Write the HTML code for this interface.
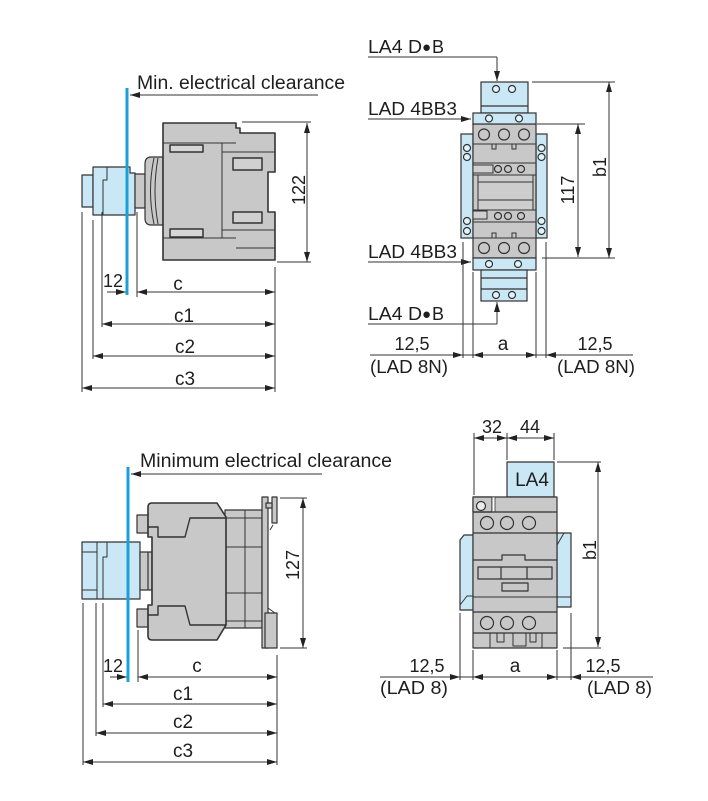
<!DOCTYPE html>
<html><head><meta charset="utf-8"><style>
html,body{margin:0;padding:0;background:#fff;}
svg{display:block;}
text{font-family:"Liberation Sans",Arial,sans-serif;fill:#1e1e1e;}
</style></head><body>
<svg width="708" height="801" viewBox="0 0 708 801" xmlns="http://www.w3.org/2000/svg">
<defs>
<marker id="ar" viewBox="0 0 10 6" refX="10" refY="3" markerWidth="10" markerHeight="6" markerUnits="userSpaceOnUse" orient="auto-start-reverse"><path d="M0,0L10,3L0,6z" fill="#222"/></marker>
</defs>

<!-- ================= TOP LEFT ================= -->
<g stroke="#333" stroke-width="1.2" stroke-linejoin="round">
  <rect x="82" y="175" width="11" height="32" fill="#c9e7f5"/>
  <path d="M93,167H130V173H135V215H93Z" fill="#c9e7f5"/>
  <path d="M107,167V180H103V215" fill="none" stroke-width="1"/>
  <rect x="135" y="174" width="10" height="34" fill="#c8c8c8"/>
  <path d="M163,157H151Q145,157 145,164V218Q145,225 151,225H163Z" fill="#c8c8c8"/>
  <path d="M154,158Q147,191 154,224" fill="none" stroke-width="1"/>
  <path d="M158,158Q152,191 158,224" fill="none" stroke-width="1"/>
  <path d="M163,123H236V128H240V133H275V172H268V212H275V260H163Z" fill="#c8c8c8" stroke-width="1.6"/>
  <path d="M163,143H236M222,143V238M163,238H236M222,152H275M222,230H275M236,248H275" fill="none" stroke-width="1"/>
  <rect x="170" y="145" width="33" height="7" fill="#d6d6d6" stroke-width="1.5"/>
  <rect x="170" y="229" width="33" height="8" fill="#d6d6d6" stroke-width="1.5"/>
  <rect x="233" y="158" width="29" height="12" fill="#d0d0d0" stroke-width="1.5"/>
  <rect x="233" y="212" width="29" height="11" fill="#d0d0d0" stroke-width="1.5"/>
</g>
<g stroke="#333" stroke-width="1" fill="none">
  <path d="M82,212V392M93,220V359M102,212V327M137,212V297M275,267V392"/>
  <path d="M242,122H311M277,262H311"/>
  <line x1="307" y1="123" x2="307" y2="262" marker-start="url(#ar)" marker-end="url(#ar)"/>
  <line x1="137" y1="292" x2="275" y2="292" marker-start="url(#ar)" marker-end="url(#ar)"/>
  <line x1="107" y1="292" x2="126" y2="292" marker-end="url(#ar)"/>
  <line x1="102" y1="324" x2="275" y2="324" marker-start="url(#ar)" marker-end="url(#ar)"/>
  <line x1="93" y1="356" x2="275" y2="356" marker-start="url(#ar)" marker-end="url(#ar)"/>
  <line x1="82" y1="388" x2="275" y2="388" marker-start="url(#ar)" marker-end="url(#ar)"/>
  <line x1="318" y1="95" x2="130" y2="95" marker-end="url(#ar)"/>
</g>
<line x1="127" y1="88" x2="127" y2="295" stroke="#1aa0d8" stroke-width="3"/>
<text x="137" y="89" font-size="19" textLength="208" lengthAdjust="spacingAndGlyphs">Min. electrical clearance</text>
<text transform="translate(305,190) rotate(-90)" font-size="18" text-anchor="middle">122</text>
<text x="103" y="287" font-size="18" textLength="20" lengthAdjust="spacingAndGlyphs">12</text>
<text x="178" y="290" font-size="19" text-anchor="middle">c</text>
<text x="184" y="322" font-size="19" text-anchor="middle">c1</text>
<text x="185" y="353" font-size="19" text-anchor="middle">c2</text>
<text x="185" y="385" font-size="19" text-anchor="middle">c3</text>

<!-- ================= TOP RIGHT ================= -->
<g stroke="#333" stroke-width="1.2">
  <rect x="481" y="82" width="47" height="31" fill="#c9e7f5"/>
  <path d="M481,106H528" fill="none"/>
  <circle cx="496" cy="89" r="3.5" fill="#e3f3fa"/>
  <circle cx="512" cy="89" r="3.5" fill="#e3f3fa"/>
  <rect x="461" y="134" width="12" height="104" fill="#c9e7f5"/>
  <rect x="536" y="134" width="11" height="104" fill="#c9e7f5"/>
  <circle cx="467" cy="148" r="3.5" fill="#e3f3fa"/><circle cx="467" cy="157" r="3.5" fill="#e3f3fa"/>
  <circle cx="467" cy="221" r="3.5" fill="#e3f3fa"/><circle cx="467" cy="231" r="3.5" fill="#e3f3fa"/>
  <circle cx="541.5" cy="148" r="3.5" fill="#e3f3fa"/><circle cx="541.5" cy="157" r="3.5" fill="#e3f3fa"/>
  <circle cx="541.5" cy="221" r="3.5" fill="#e3f3fa"/><circle cx="541.5" cy="231" r="3.5" fill="#e3f3fa"/>
  <rect x="473" y="124" width="63" height="134" fill="#c8c8c8"/>
  <path d="M473,144H536M473,163H536M473,175H536M473,210H536M473,222H536M473,238H536" fill="none" stroke-width="1"/>
  <rect x="478" y="175" width="55" height="35" fill="#cdcdcd" stroke-width="1"/>
  <path d="M478,182H533M478,200H533" fill="none" stroke-width="1"/>
  <rect x="473" y="165" width="20" height="8" fill="#d0d0d0" stroke-width="1"/>
  <rect x="473" y="211" width="14" height="8" fill="#d0d0d0" stroke-width="1"/>
  <circle cx="484" cy="134.5" r="5.5" fill="#c8c8c8"/><circle cx="504" cy="134.5" r="5.5" fill="#c8c8c8"/><circle cx="524" cy="134.5" r="5.5" fill="#c8c8c8"/>
  <circle cx="484" cy="248" r="5.5" fill="#c8c8c8"/><circle cx="504" cy="248" r="5.5" fill="#c8c8c8"/><circle cx="524" cy="248" r="5.5" fill="#c8c8c8"/>
  <circle cx="498" cy="169" r="3.5" fill="#c8c8c8"/><circle cx="508" cy="169" r="3.5" fill="#c8c8c8"/><circle cx="521" cy="169" r="3.5" fill="#c8c8c8"/>
  <circle cx="498" cy="216" r="3.5" fill="#c8c8c8"/><circle cx="508" cy="216" r="3.5" fill="#c8c8c8"/><circle cx="521" cy="216" r="3.5" fill="#c8c8c8"/>
  <path d="M492,144V149H496V144M512,144V149H516V144M492,238V233H496V238M512,238V233H516V238" fill="none" stroke-width="1"/>
  <rect x="473" y="113" width="63" height="11" fill="#c9e7f5"/>
  <circle cx="489" cy="118.5" r="3.5" fill="#e3f3fa"/><circle cx="519" cy="118.5" r="3.5" fill="#e3f3fa"/>
  <rect x="473" y="258" width="63" height="12" fill="#c9e7f5"/>
  <circle cx="489" cy="264" r="3.5" fill="#e3f3fa"/><circle cx="518" cy="264" r="3.5" fill="#e3f3fa"/>
  <rect x="481" y="270" width="46" height="31" fill="#c9e7f5"/>
  <path d="M481,278H527M481,289H527" fill="none"/>
  <circle cx="496" cy="295" r="3.5" fill="#e3f3fa"/><circle cx="512" cy="295" r="3.5" fill="#e3f3fa"/>
</g>
<g stroke="#333" stroke-width="1" fill="none">
  <path d="M368,57H497" /><line x1="497" y1="57" x2="497" y2="81" marker-end="url(#ar)"/>
  <line x1="368" y1="119" x2="471" y2="119" marker-end="url(#ar)"/>
  <line x1="368" y1="262" x2="471" y2="262" marker-end="url(#ar)"/>
  <path d="M368,324H497"/><line x1="497" y1="324" x2="497" y2="302" marker-end="url(#ar)"/>
  <path d="M532,82H615M537,124H585M542,258H615"/>
  <line x1="578" y1="124" x2="578" y2="257" marker-start="url(#ar)" marker-end="url(#ar)"/>
  <line x1="609" y1="82" x2="609" y2="258" marker-start="url(#ar)" marker-end="url(#ar)"/>
  <path d="M463,242V358M473,272V358M536,272V358M546,242V358"/>
  <path d="M370,355H633"/>
  <line x1="440" y1="355" x2="463" y2="355" marker-end="url(#ar)"/>
  <line x1="473" y1="355" x2="536" y2="355" marker-start="url(#ar)" marker-end="url(#ar)"/>
  <line x1="570" y1="355" x2="546" y2="355" marker-end="url(#ar)"/>
</g>
<text x="368" y="53" font-size="18" textLength="54" lengthAdjust="spacingAndGlyphs">LA4 D</text>
<text x="422" y="52" font-size="15" font-family="DejaVu Sans, sans-serif">●</text>
<text x="432" y="53" font-size="18">B</text>
<text x="368" y="115" font-size="18" textLength="89" lengthAdjust="spacingAndGlyphs">LAD 4BB3</text>
<text x="368" y="258" font-size="18" textLength="89" lengthAdjust="spacingAndGlyphs">LAD 4BB3</text>
<text x="368" y="320" font-size="18" textLength="54" lengthAdjust="spacingAndGlyphs">LA4 D</text>
<text x="422" y="319" font-size="15" font-family="DejaVu Sans, sans-serif">●</text>
<text x="432" y="320" font-size="18">B</text>
<text transform="translate(574,190) rotate(-90)" font-size="18" text-anchor="middle">117</text>
<text transform="translate(606,167) rotate(-90)" font-size="18" text-anchor="middle">b1</text>
<text x="412" y="350" font-size="18" text-anchor="middle">12,5</text>
<text x="370" y="373" font-size="18" textLength="78" lengthAdjust="spacingAndGlyphs">(LAD 8N)</text>
<text x="503" y="350" font-size="19" text-anchor="middle">a</text>
<text x="595" y="350" font-size="18" text-anchor="middle">12,5</text>
<text x="557" y="373" font-size="18" textLength="78" lengthAdjust="spacingAndGlyphs">(LAD 8N)</text>

<!-- ================= BOTTOM LEFT ================= -->
<g stroke="#333" stroke-width="1.2" stroke-linejoin="round">
  <rect x="82" y="542" width="58" height="57" fill="#c9e7f5"/>
  <path d="M97,542V599M82,552H97M82,590H97" fill="none" stroke-width="1"/>
  <path d="M107,542V557H103V599" fill="none" stroke-width="1"/>
  <rect x="140" y="552" width="12" height="38" fill="#c8c8c8"/>
  <path d="M148,552V590" fill="none"/>
  <rect x="137" y="515" width="11" height="18" fill="#c8c8c8"/>
  <rect x="137" y="609" width="11" height="18" fill="#c8c8c8"/>
  <rect x="225" y="510" width="37" height="118" fill="#c8c8c8"/>
  <path d="M245,510V628M225,518H262M225,547H262M225,593H262M225,621H262" fill="none" stroke-width="1"/>
  <path d="M152,503H217L226,517V625L217,640H152Q148,640 148,636V605H152V537H148V507Q148,503 152,503Z" fill="#c8c8c8" stroke-width="1.6"/>
  <path d="M148,527H158V537H185L190,518H226M148,615H158V606H185L190,625H226" fill="none" stroke-width="1.4"/>
  <rect x="262" y="497" width="6" height="151" fill="#c8c8c8"/>
  <rect x="272" y="497" width="5" height="26" fill="#c8c8c8"/>
  <rect x="266" y="503" width="6" height="5" fill="#c8c8c8"/>
  <rect x="265" y="613" width="12" height="35" fill="#c8c8c8"/>
  <path d="M268,608L275,613M270,530L273,525" fill="none" stroke-width="1"/>
</g>
<g stroke="#333" stroke-width="1" fill="none">
  <path d="M83,603V765M96,603V736M103,603V707M138,630V682M277,655V765"/>
  <path d="M280,498H307M280,648H307"/>
  <line x1="303" y1="498" x2="303" y2="648" marker-start="url(#ar)" marker-end="url(#ar)"/>
  <line x1="138" y1="677" x2="277" y2="677" marker-start="url(#ar)" marker-end="url(#ar)"/>
  <line x1="110" y1="677" x2="127" y2="677" marker-end="url(#ar)"/>
  <line x1="103" y1="704" x2="277" y2="704" marker-start="url(#ar)" marker-end="url(#ar)"/>
  <line x1="96" y1="733" x2="277" y2="733" marker-start="url(#ar)" marker-end="url(#ar)"/>
  <line x1="83" y1="762" x2="277" y2="762" marker-start="url(#ar)" marker-end="url(#ar)"/>
  <line x1="322" y1="474" x2="131" y2="474" marker-end="url(#ar)"/>
</g>
<line x1="128" y1="467" x2="128" y2="682" stroke="#1aa0d8" stroke-width="3"/>
<text x="140" y="467" font-size="19" textLength="252" lengthAdjust="spacingAndGlyphs">Minimum electrical clearance</text>
<text transform="translate(299,565) rotate(-90)" font-size="18" text-anchor="middle">127</text>
<text x="103" y="672" font-size="18" textLength="20" lengthAdjust="spacingAndGlyphs">12</text>
<text x="197" y="672" font-size="19" text-anchor="middle">c</text>
<text x="183" y="700" font-size="19" text-anchor="middle">c1</text>
<text x="183" y="728" font-size="19" text-anchor="middle">c2</text>
<text x="183" y="757" font-size="19" text-anchor="middle">c3</text>

<!-- ================= BOTTOM RIGHT ================= -->
<g stroke="#333" stroke-width="1.2" stroke-linejoin="round">
  <rect x="507" y="462" width="47" height="35" fill="#c9e7f5"/>
  <path d="M460,540L464,535H473V610H460Z" fill="#c9e7f5"/>
  <path d="M460,605L467,596H473" fill="none" stroke-width="1"/>
  <path d="M557,533H571V607H557Z" fill="#c9e7f5"/>
  <path d="M557,545L564,533M557,597H571" fill="none" stroke-width="1"/>
  <rect x="473" y="497" width="84" height="151" fill="#c8c8c8"/>
  <rect x="473" y="497" width="19" height="15" fill="#c8c8c8"/>
  <rect x="492" y="497" width="3" height="15" fill="#fff" stroke-width="0.8"/>
  <circle cx="481" cy="506" r="4.5" fill="#ececec"/>
  <path d="M473,512H557M473,533H557M473,612H557M473,633H557" fill="none"/>
  <circle cx="487" cy="523" r="6.5" fill="#c8c8c8"/><circle cx="507" cy="523" r="6.5" fill="#c8c8c8"/><circle cx="529" cy="523" r="6.5" fill="#c8c8c8"/>
  <circle cx="487" cy="623" r="6.5" fill="#c8c8c8"/><circle cx="507" cy="623" r="6.5" fill="#c8c8c8"/><circle cx="529" cy="623" r="6.5" fill="#c8c8c8"/>
  <path d="M473,560H502V555H525V560H557" fill="none"/>
  <rect x="478" y="567" width="74" height="12" fill="#c8c8c8"/>
  <path d="M501,567V579M527,567V579" fill="none"/>
  <rect x="502" y="583" width="26" height="8" fill="#c8c8c8"/>
  <path d="M473,597H557" fill="none" stroke-width="1"/>
  <path d="M490,633V648M497,633V642H504V633M513,633V646H526V633M530,633V642H536V633M542,633V648" fill="none" stroke-width="1"/>
</g>
<g stroke="#333" stroke-width="1" fill="none">
  <path d="M474,433V495M507,433V460M554,433V460"/>
  <line x1="474" y1="438" x2="507" y2="438" marker-start="url(#ar)" marker-end="url(#ar)"/>
  <line x1="507" y1="438" x2="554" y2="438" marker-start="url(#ar)" marker-end="url(#ar)"/>
  <path d="M557,462H601M563,648H601"/>
  <line x1="598" y1="462" x2="598" y2="647" marker-start="url(#ar)" marker-end="url(#ar)"/>
  <path d="M460,613V680M473,650V680M557,650V680M571,613V680"/>
  <path d="M380,677H653"/>
  <line x1="440" y1="677" x2="460" y2="677" marker-end="url(#ar)"/>
  <line x1="473" y1="677" x2="557" y2="677" marker-start="url(#ar)" marker-end="url(#ar)"/>
  <line x1="592" y1="677" x2="571" y2="677" marker-end="url(#ar)"/>
</g>
<text x="492" y="433" font-size="18" text-anchor="middle">32</text>
<text x="530" y="433" font-size="18" text-anchor="middle">44</text>
<text x="532" y="486" font-size="19" text-anchor="middle">LA4</text>
<text transform="translate(596,550) rotate(-90)" font-size="18" text-anchor="middle">b1</text>
<text x="427" y="672" font-size="18" text-anchor="middle">12,5</text>
<text x="380" y="694" font-size="18" textLength="68" lengthAdjust="spacingAndGlyphs">(LAD 8)</text>
<text x="515" y="672" font-size="19" text-anchor="middle">a</text>
<text x="603" y="672" font-size="18" text-anchor="middle">12,5</text>
<text x="587" y="694" font-size="18" textLength="65" lengthAdjust="spacingAndGlyphs">(LAD 8)</text>
</svg>
</body></html>
